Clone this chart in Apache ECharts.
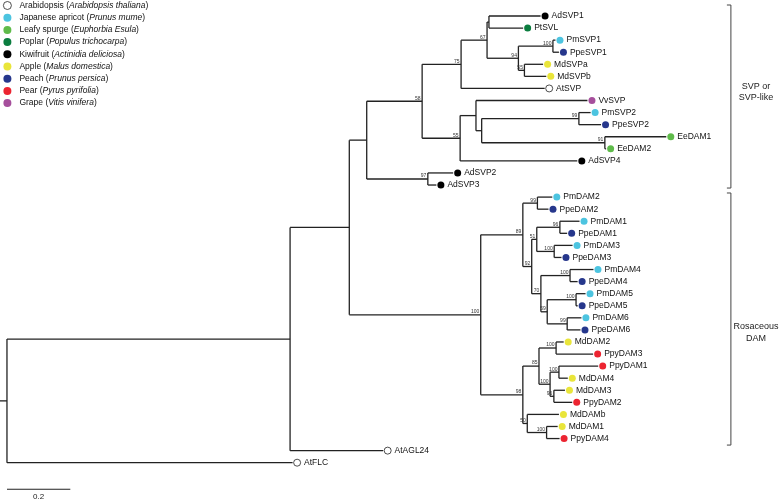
<!DOCTYPE html>
<html><head><meta charset="utf-8">
<script src="https://cdn.jsdelivr.net/npm/echarts@6/dist/echarts.min.js"></script>
<style>html,body{margin:0;padding:0;background:#fff}#c{width:780px;height:500px}</style>
</head><body><div id="c"></div>
<script>
// ---- species legend ----
const speciesNames = ['Arabidopsis','Japanese apricot','Leafy spurge','Poplar','Kiwifruit','Apple','Peach','Pear','Grape'];
const speciesLatin = ['Arabidopsis thaliana','Prunus mume','Euphorbia Esula','Populus trichocarpa','Actinidia deliciosa','Malus domestica','Prunus persica','Pyrus pyrifolia','Vitis vinifera'];
const speciesColors = ['#ffffff','#4cc4e0','#5fbb4a','#0b7d3f','#000000','#e9e53a','#26378c','#ec2431','#a64f9c'];

// ---- leaves (top to bottom) ----
const leafNames = ['AdSVP1','PtSVL','PmSVP1','PpeSVP1','MdSVPa','MdSVPb','AtSVP','VvSVP','PmSVP2','PpeSVP2','EeDAM1','EeDAM2','AdSVP4','AdSVP2','AdSVP3',
  'PmDAM2','PpeDAM2','PmDAM1','PpeDAM1','PmDAM3','PpeDAM3','PmDAM4','PpeDAM4','PmDAM5','PpeDAM5','PmDAM6','PpeDAM6',
  'MdDAM2','PpyDAM3','PpyDAM1','MdDAM4','MdDAM3','PpyDAM2','MdDAMb','MdDAM1','PpyDAM4','AtAGL24','AtFLC'];
const leafSpecies = [4,3,1,6,5,5,0,8,1,6,2,2,4,4,4, 1,6,1,6,1,6,1,6,1,6,1,6, 5,7,7,5,5,7,5,5,7, 0,0];
const leafDepth = [1.685,1.630,1.732,1.743,1.693,1.703,1.698,1.833,1.843,1.876,2.082,1.892,1.801,1.409,1.356,
  1.722,1.710,1.808,1.769,1.786,1.751,1.852,1.802,1.827,1.802,1.814,1.811,
  1.758,1.851,1.867,1.771,1.762,1.785,1.743,1.739,1.745,
  1.188,0.902];

// ---- internal nodes (children listed before parents) ----
const nodeIds = ['nAP','n100a','n55a','n94','n67','n75','n99a','n91','nY','nX','n55','n58','n97','nZ',
  'n99b','n96','n100b','n51','n100c','n100d','n99c','n59','n70','n92','n89',
  'n100e','n100f','n96b','n100h','n85','n100g','n50','n98','n100','nW','nV','root'];
const nodeKids = [['AdSVP1','PtSVL'],['PmSVP1','PpeSVP1'],['MdSVPa','MdSVPb'],['n100a','n55a'],['nAP','n94'],['n67','AtSVP'],
  ['PmSVP2','PpeSVP2'],['EeDAM1','EeDAM2'],['n99a','n91'],['VvSVP','nY'],['nX','AdSVP4'],['n75','n55'],['AdSVP2','AdSVP3'],['n58','n97'],
  ['PmDAM2','PpeDAM2'],['PmDAM1','PpeDAM1'],['PmDAM3','PpeDAM3'],['n96','n100b'],['PmDAM4','PpeDAM4'],['PmDAM5','PpeDAM5'],['PmDAM6','PpeDAM6'],
  ['n100d','n99c'],['n100c','n59'],['n51','n70'],['n99b','n92'],
  ['MdDAM2','PpyDAM3'],['PpyDAM1','MdDAM4'],['MdDAM3','PpyDAM2'],['n100f','n96b'],['n100e','n100h'],['MdDAM1','PpyDAM4'],['MdDAMb','n100g'],
  ['n85','n50'],['n89','n98'],['nZ','n100'],['nW','AtAGL24'],['nV','AtFLC']];
const nodeDepth = [1.522,1.724,1.634,1.615,1.516,1.434,1.806,1.888,1.499,1.481,1.431,1.311,1.329,1.136,
  1.675,1.746,1.728,1.673,1.778,1.797,1.769,1.706,1.686,1.657,1.629,
  1.734,1.743,1.727,1.715,1.680,1.704,1.643,1.629,1.496,1.081,0.894,0];
const nodeSupport = [null,100,55,94,67,75,99,91,null,null,55,58,97,null,
  99,96,100,51,100,100,99,59,70,92,89,
  100,100,96,100,85,100,50,98,100,null,null,null];

const cladeLabels = ['SVP or\nSVP-like','Rosaceous\nDAM'];
const scaleBarValue = 0.2;

// ---- build tree geometry in data units ----
const pos = {};
leafNames.forEach((n,i)=>{ pos[n] = {x:leafDepth[i], y:i}; });
nodeIds.forEach((id,i)=>{
  const a = pos[nodeKids[i][0]], b = pos[nodeKids[i][1]];
  pos[id] = {x:nodeDepth[i], y:(a.y+b.y)/2};
});
const segs = [];
nodeIds.forEach((id,i)=>{
  const p = pos[id];
  const a = pos[nodeKids[i][0]], b = pos[nodeKids[i][1]];
  segs.push([p.x, a.y, p.x, b.y]);
  segs.push([p.x, a.y, a.x, a.y]);
  segs.push([p.x, b.y, b.x, b.y]);
});
segs.push([-0.022, pos.root.y, 0, pos.root.y]);

const supportData = [];
nodeIds.forEach((id,i)=>{ if(nodeSupport[i]!=null) supportData.push([pos[id].x, pos[id].y, nodeSupport[i]]); });

const chart = echarts.init(document.getElementById('c'));
const FONT = '"Liberation Sans", Arial, sans-serif';
const series = [{
  type:'custom', name:'tree', silent:true, z:1,
  data: segs,
  encode:{x:[0,2], y:[1,3]},
  renderItem:function(params, api){
    const p1 = api.coord([api.value(0), api.value(1)]);
    const p2 = api.coord([api.value(2), api.value(3)]);
    return {type:'line', shape:{x1:p1[0],y1:p1[1],x2:p2[0],y2:p2[1]}, style:{stroke:'#222', lineWidth:1.3}};
  }
},{
  type:'custom', name:'support', silent:true, z:3,
  data: supportData,
  encode:{x:0, y:1},
  renderItem:function(params, api){
    const p = api.coord([api.value(0), api.value(1)]);
    return {type:'text', x:p[0]-1.5, y:p[1]-0.5, style:{text:String(api.value(2)), font:'5px '+FONT, fill:'#333', align:'right', verticalAlign:'bottom'}};
  }
}];
speciesNames.forEach((sp, si)=>{
  const data = [];
  leafNames.forEach((n,i)=>{ if(leafSpecies[i]===si) data.push([leafDepth[i], i, n]); });
  series.push({
    type:'scatter', name:sp, z:4, symbol:'circle', symbolSize:7, symbolOffset:[4.5,0],
    itemStyle: si===0 ? {color:'#ffffff', borderColor:'#222', borderWidth:0.8, opacity:1} : {color:speciesColors[si], borderWidth:0, opacity:1},
    label:{show:true, position:'right', distance:3, formatter:p=>p.data[2], fontSize:8.5, fontFamily:FONT, color:'#111'},
    data: data
  });
});

const option = {
  animation:false,
  backgroundColor:'#fff',
  grid:{left:0, right:13, top:16, bottom:37.3},
  xAxis:{type:'value', min:-0.022, max:2.4, show:false},
  yAxis:{type:'value', min:0, max:37, inverse:true, show:false},
  legend:{
    orient:'vertical', left:3, top:1, padding:0, itemWidth:8, itemHeight:8, itemGap:3.2, icon:'circle',
    data:speciesNames.map((n,i)=> i===0 ? {name:n, itemStyle:{color:'#fff', borderColor:'#222', borderWidth:0.8}} : {name:n, itemStyle:{color:speciesColors[i], borderWidth:0}}),
    formatter:function(name){ const i = speciesNames.indexOf(name); return '{n|'+name+' (}{i|'+speciesLatin[i]+'}{n|)}'; },
    textStyle:{fontSize:8.5, fontFamily:FONT, color:'#111', padding:[0,0,0,3], rich:{n:{fontSize:8.5, fontFamily:FONT, color:'#111'}, i:{fontSize:8.5, fontFamily:FONT, fontStyle:'italic', color:'#111'}}},
    selectedMode:false
  },
  series: series
};
chart.setOption(option);

// ---- annotations (scale bar + clade brackets) placed through the chart's scales ----
const c = (x,y)=>chart.convertToPixel({gridIndex:0},[x,y]);
const sb0 = c(0, 39.2), sb1 = c(scaleBarValue, 39.2);
const g = [
  {type:'line', shape:{x1:sb0[0],y1:sb0[1],x2:sb1[0],y2:sb1[1]}, style:{stroke:'#222', lineWidth:1.2}},
  {type:'text', x:(sb0[0]+sb1[0])/2, y:sb0[1]+4, style:{text:String(scaleBarValue), font:'8px '+FONT, fill:'#222', align:'center', verticalAlign:'top'}}
];
const brackets = [[-0.91, 14.25],[14.66, 35.54]];
const bx = 2.286;
brackets.forEach((b,k)=>{
  const t = c(bx, b[0]), u = c(bx, b[1]);
  g.push({type:'polyline', shape:{points:[[t[0]-4,t[1]],[t[0],t[1]],[u[0],u[1]],[u[0]-4,u[1]]]}, style:{stroke:'#444', lineWidth:1, fill:null}});
  const midY = k===0 ? c(bx, 6.3)[1] : c(bx, 26.2)[1];
  g.push({type:'text', x:t[0]+25, y:midY, style:{text:cladeLabels[k], font:'9px '+FONT, fill:'#222', align:'center', verticalAlign:'middle', lineHeight:11.5}});
});
chart.setOption({graphic:g});
</script></body></html>
